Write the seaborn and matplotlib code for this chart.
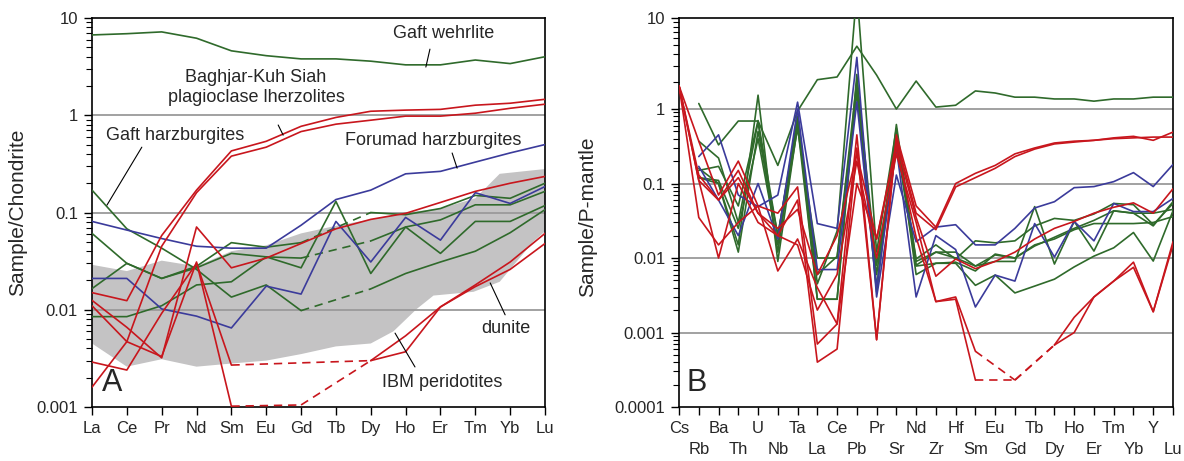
import numpy as np
import matplotlib
matplotlib.use("Agg")
import matplotlib.pyplot as plt
from matplotlib.ticker import FixedLocator, FuncFormatter, NullFormatter
import seaborn as sns

sns.set_style("ticks")
plt.rcParams['font.family'] = ['Liberation Sans', 'DejaVu Sans']

GREEN = '#2f6a2b'
RED = '#c8161d'
BLUE = '#3b3b9b'
FIELD = '#c4c3c4'
GRID = '#9a9a9a'
nan = np.nan

# ---- panel A: chondrite normalised REE ----
ree = ['La', 'Ce', 'Pr', 'Nd', 'Sm', 'Eu', 'Gd', 'Tb', 'Dy', 'Ho', 'Er', 'Tm', 'Yb', 'Lu']

a_wehrlite = [6.7, 6.9, 7.2, 6.2, 4.6, 4.1, 3.8, 3.8, 3.6, 3.3, 3.3, 3.7, 3.4, 4.0]
a_gaft_h1 = [0.17, 0.068, 0.043, 0.026, 0.0135, 0.018, 0.0098, nan, 0.0164, 0.0236, 0.031, 0.040, 0.062, 0.107]
a_gaft_h2 = [0.061, 0.030, 0.021, 0.028, 0.049, 0.044, 0.049, nan, 0.10, 0.095, 0.11, 0.15, 0.14, 0.20]
a_gaft_h3 = [0.0165, 0.030, 0.021, 0.027, 0.038, 0.035, 0.034, nan, 0.051, 0.071, 0.084, 0.12, 0.12, 0.165]
a_gaft_h4 = [0.0085, 0.0085, 0.011, 0.018, 0.0194, 0.035, 0.027, 0.13, 0.0236, 0.071, 0.038, 0.081, 0.081, 0.118]
a_forumad1 = [0.081, 0.066, 0.054, 0.045, 0.043, 0.043, 0.074, 0.136, 0.17, 0.25, 0.265, 0.33, 0.41, 0.50]
a_forumad2 = [0.021, 0.021, 0.0102, 0.0086, 0.0065, 0.0175, 0.0145, 0.081, 0.031, 0.089, 0.052, 0.16, 0.124, 0.185]
a_baghjar1 = [0.015, 0.0124, 0.058, 0.17, 0.43, 0.54, 0.77, 0.95, 1.10, 1.13, 1.15, 1.27, 1.33, 1.46]
a_baghjar2 = [0.0016, 0.0047, 0.045, 0.16, 0.38, 0.47, 0.68, 0.81, 0.89, 0.98, 0.98, 1.05, 1.18, 1.30]
a_red3 = [0.0125, 0.0066, 0.0032, 0.071, 0.027, 0.034, 0.048, 0.068, 0.085, 0.098, 0.127, 0.165, 0.20, 0.235]
a_ibm1 = [0.0029, 0.0024, 0.0092, 0.030, 0.0027, nan, nan, nan, 0.0030, 0.0037, 0.0107, 0.0173, 0.026, 0.048]
a_ibm2 = [0.0110, 0.0047, 0.0033, 0.031, 0.00102, nan, 0.00105, nan, 0.0030, 0.0054, 0.0107, 0.018, 0.031, 0.061]

# dunite field (position along REE axis, value)
dunite_top_x = [0, 1, 2, 3, 4, 5, 6, 7, 8, 9, 10, 11, 11.7, 13]
dunite_top_y = [0.029, 0.025, 0.032, 0.028, 0.040, 0.046, 0.061, 0.073, 0.085, 0.10, 0.11, 0.14, 0.25, 0.28]
dunite_bot_x = [0, 1, 2, 3, 4, 5, 6, 7, 8, 8.65, 9.32, 9.8, 10.95, 11.7, 12.66, 13]
dunite_bot_y = [0.0045, 0.0026, 0.0031, 0.0026, 0.0028, 0.0030, 0.0035, 0.0042, 0.0045, 0.006, 0.0102,
                0.014, 0.0153, 0.0194, 0.050, 0.064]

# ---- panel B: primitive mantle normalised trace elements ----
trace = ['Cs', 'Rb', 'Ba', 'Th', 'U', 'Nb', 'Ta', 'La', 'Ce', 'Pb', 'Pr', 'Sr', 'Nd',
         'Zr', 'Hf', 'Sm', 'Eu', 'Gd', 'Tb', 'Dy', 'Ho', 'Er', 'Tm', 'Yb', 'Y', 'Lu']

b_wehrlite = [nan, 1.15, 0.33, 0.69, 0.69, 0.175, 0.94, 2.1, 2.25, 4.9, 2.36, 1.0, 2.03, 1.05, 1.1,
              1.58, 1.5, 1.35, 1.35, 1.29, 1.29, 1.22, 1.29, 1.29, 1.35, 1.35]
b_green1 = [nan, 0.16, 0.10, 0.012, 0.50, 0.020, 0.70, 0.0045, 0.023, 20.0, 0.012, 0.55, 0.0078, 0.0085,
            0.0088, 0.0067, 0.0113, 0.010, 0.0145, 0.019, 0.025, 0.032, 0.043, 0.040, 0.040, 0.045]
b_green2 = [nan, 0.37, 0.22, 0.030, 0.67, 0.012, 0.80, 0.0028, 0.0028, 2.4, 0.004, 0.62, 0.009, 0.012,
            0.010, 0.0078, 0.009, 0.009, 0.049, 0.0083, 0.031, 0.0124, 0.043, 0.040, 0.027, 0.057]
b_green3 = [nan, 0.12, 0.10, 0.015, 1.42, 0.009, 0.60, 0.0028, 0.0028, 1.8, 0.0035, 0.50, 0.006, 0.0085,
            0.0085, 0.0043, 0.0059, 0.0034, 0.0042, 0.0052, 0.0076, 0.0106, 0.0137, 0.022, 0.0091, 0.043]
b_green4 = [nan, 0.15, 0.17, 0.05, 0.70, 0.020, 0.75, 0.006, 0.0105, 1.5, 0.006, 0.45, 0.0097, 0.015,
            0.0097, 0.017, 0.016, 0.017, 0.027, 0.034, 0.032, 0.039, 0.054, 0.052, 0.028, 0.054]
b_green5 = [nan, 0.12, 0.11, 0.025, 0.40, 0.015, 0.55, 0.010, 0.010, 2.0, 0.008, 0.35, 0.008, 0.012,
            0.012, 0.0078, 0.011, 0.010, 0.015, 0.018, 0.024, 0.029, 0.029, 0.029, 0.030, 0.036]
b_blue1 = [nan, 0.23, 0.45, 0.07, 0.049, 0.07, 1.19, 0.029, 0.025, 3.7, 0.003, 0.13, 0.0165, 0.026,
           0.028, 0.015, 0.015, 0.025, 0.047, 0.057, 0.088, 0.091, 0.106, 0.14, 0.091, 0.18]
b_blue2 = [nan, 0.17, 0.06, 0.02, 0.10, 0.018, 1.0, 0.007, 0.007, 1.2, 0.004, 0.30, 0.003, 0.020,
           0.013, 0.0022, 0.0059, 0.0049, 0.029, 0.0103, 0.031, 0.017, 0.054, 0.042, 0.042, 0.063]
b_baghjar1 = [1.8, 0.37, 0.07, 0.20, 0.05, 0.04, 0.09, 0.0007, 0.0013, 0.45, 0.0008, 0.45, 0.05, 0.026,
              0.10, 0.137, 0.175, 0.25, 0.30, 0.35, 0.37, 0.38, 0.41, 0.43, 0.38, 0.49]
b_baghjar2 = [1.8, 0.13, 0.06, 0.12, 0.04, 0.02, 0.06, 0.0004, 0.0006, 0.30, 0.0008, 0.40, 0.04, 0.024,
              0.09, 0.12, 0.16, 0.23, 0.29, 0.34, 0.36, 0.38, 0.40, 0.41, 0.42, 0.42]
b_ibm1 = [1.8, 0.035, 0.015, 0.03, 0.05, 0.0067, 0.018, 0.004, 0.0013, 0.10, 0.018, 0.30, 0.019, 0.0026,
          0.0030, 0.00056, nan, 0.00023, nan, 0.00068, 0.0010, 0.0030, 0.0049, 0.0088, 0.0019, 0.0165]
b_ibm2 = [1.8, 0.11, 0.010, 0.10, 0.03, 0.020, 0.015, 0.002, 0.006, 0.20, 0.010, 0.25, 0.030, 0.0026,
          0.0028, 0.00023, nan, 0.00023, nan, 0.00068, 0.0016, 0.0030, 0.0049, 0.0075, 0.0019, 0.015]
b_red5 = [1.8, 0.11, 0.06, 0.15, 0.04, 0.025, 0.045, 0.006, 0.02, 0.25, 0.018, 0.35, 0.035, 0.0057,
          0.0097, 0.0072, 0.009, 0.012, 0.018, 0.025, 0.031, 0.040, 0.048, 0.055, 0.040, 0.085]

a_series = [(a_wehrlite, GREEN), (a_gaft_h1, GREEN), (a_gaft_h2, GREEN), (a_gaft_h3, GREEN),
            (a_gaft_h4, GREEN), (a_forumad1, BLUE), (a_forumad2, BLUE), (a_baghjar1, RED),
            (a_baghjar2, RED), (a_red3, RED), (a_ibm1, RED), (a_ibm2, RED)]
b_series = [(b_wehrlite, GREEN), (b_green1, GREEN), (b_green2, GREEN), (b_green3, GREEN),
            (b_green4, GREEN), (b_green5, GREEN), (b_blue1, BLUE), (b_blue2, BLUE),
            (b_baghjar1, RED), (b_baghjar2, RED), (b_ibm1, RED), (b_ibm2, RED), (b_red5, RED)]


def draw_series(ax, vals, color):
    """solid where data exist, dashed across missing elements"""
    v = np.array(vals, dtype=float)
    xs = np.arange(len(v))
    idx = np.where(~np.isnan(v))[0]
    runs = np.split(idx, np.where(np.diff(idx) > 1)[0] + 1)
    for r in runs:
        if len(r) > 1:
            sns.lineplot(x=xs[r], y=v[r], ax=ax, color=color, lw=1.2,
                         estimator=None, sort=False, zorder=3)
    for r1, r2 in zip(runs[:-1], runs[1:]):
        k = [r1[-1], r2[0]]
        sns.lineplot(x=xs[k], y=v[k], ax=ax, color=color, lw=1.2, estimator=None,
                     sort=False, linestyle=(0, (5, 3.5)), zorder=3)


def leader(ax, p1, p2):
    ax.annotate('', xy=p2, xytext=p1, xycoords='axes fraction', textcoords='axes fraction',
                arrowprops=dict(arrowstyle='-', lw=0.8, color='k', shrinkA=0, shrinkB=0))


fig = plt.figure(figsize=(11.84, 4.61), dpi=100)
axA = fig.add_axes([0.0777, 0.1171, 0.3826, 0.8438])
axB = fig.add_axes([0.5735, 0.1171, 0.4172, 0.8438])

# ---------- panel A ----------
axA.set_yscale('log')
axA.fill(dunite_top_x + dunite_bot_x[::-1], dunite_top_y + dunite_bot_y[::-1],
         color=FIELD, lw=0, zorder=1)
for yv in [0.01, 0.1, 1]:
    axA.axhline(yv, color=GRID, lw=1.3, zorder=2)
for vals, col in a_series:
    draw_series(axA, vals, col)
axA.set_xlim(0, len(ree) - 1)
axA.set_ylim(0.001, 10)
axA.set_xticks(range(len(ree)))
axA.set_xticklabels(ree)
axA.set_ylabel('Sample/Chondrite', fontsize=15)
axA.yaxis.set_label_coords(-0.1435, 0.5)

axA.text(0.777, 0.961, 'Gaft wehrlite', transform=axA.transAxes, ha='center', va='center', fontsize=13)
leader(axA, (0.746, 0.920), (0.737, 0.874))
axA.text(0.362, 0.822, 'Baghjar-Kuh Siah\nplagioclase lherzolites', transform=axA.transAxes,
         ha='center', va='center', fontsize=13, linespacing=1.25)
leader(axA, (0.411, 0.725), (0.422, 0.699))
axA.text(0.183, 0.697, 'Gaft harzburgites', transform=axA.transAxes, ha='center', va='center', fontsize=13)
leader(axA, (0.110, 0.668), (0.033, 0.519))
axA.text(0.753, 0.686, 'Forumad harzburgites', transform=axA.transAxes, ha='center', va='center', fontsize=13)
leader(axA, (0.795, 0.653), (0.806, 0.614))
axA.text(0.914, 0.203, 'dunite', transform=axA.transAxes, ha='center', va='center', fontsize=13)
leader(axA, (0.879, 0.319), (0.912, 0.237))
axA.text(0.773, 0.064, 'IBM peridotites', transform=axA.transAxes, ha='center', va='center', fontsize=13)
leader(axA, (0.669, 0.190), (0.713, 0.103))
axA.text(0.044, 0.062, 'A', transform=axA.transAxes, ha='center', va='center', fontsize=22)

# ---------- panel B ----------
TOP = 91 / 74.5  # top decade is drawn taller in the original


def fwd(v):
    lg = np.log10(np.clip(np.asarray(v, dtype=float), 1e-12, None))
    return np.where(lg > 0, lg * TOP, lg)


def inv(u):
    u = np.asarray(u, dtype=float)
    return 10 ** np.where(u > 0, u / TOP, u)


axB.set_yscale('function', functions=(fwd, inv))
for yv in [0.001, 0.01, 0.1, 1]:
    axB.axhline(yv, color=GRID, lw=1.3, zorder=2)
for vals, col in b_series:
    draw_series(axB, vals, col)
axB.set_xlim(0, len(trace) - 1)
axB.set_ylim(1e-4, 10)
# two rows of element labels: even ones on major ticks, odd ones on minor ticks
axB.set_xticks(range(0, len(trace), 2))
axB.set_xticklabels(trace[0::2])
axB.set_xticks(range(1, len(trace), 2), minor=True)
axB.set_xticklabels(trace[1::2], minor=True)
axB.set_ylabel('Sample/P-mantle', fontsize=15)
axB.yaxis.set_label_coords(-0.166, 0.49)
axB.text(0.036, 0.062, 'B', transform=axB.transAxes, ha='center', va='center', fontsize=22)

majors = [1e-4, 1e-3, 1e-2, 1e-1, 1, 10]
minors = [m * 10.0 ** d for d in range(-4, 1) for m in range(2, 10)]
for ax in (axA, axB):
    ax.yaxis.set_major_locator(FixedLocator([t for t in majors if t >= ax.get_ylim()[0]]))
    ax.yaxis.set_minor_locator(FixedLocator([t for t in minors if t >= ax.get_ylim()[0]]))
    ax.yaxis.set_major_formatter(FuncFormatter(lambda v, p: f'{v:g}'))
    ax.yaxis.set_minor_formatter(NullFormatter())
    ax.tick_params(axis='both', which='major', direction='out', length=6, width=1,
                   labelsize=12, color='k', pad=4)
    ax.tick_params(axis='y', which='minor', direction='out', length=4, width=0.8, color='k')
    for s in ax.spines.values():
        s.set_visible(True)
        s.set_color('k')
        s.set_linewidth(1.2)
    ax.set_xlabel('')

axA.tick_params(axis='x', which='minor', bottom=False)
axB.tick_params(axis='x', which='minor', direction='out', length=6, width=1,
                labelsize=12, color='k', pad=19)

fig.savefig('out.png', dpi=100)
